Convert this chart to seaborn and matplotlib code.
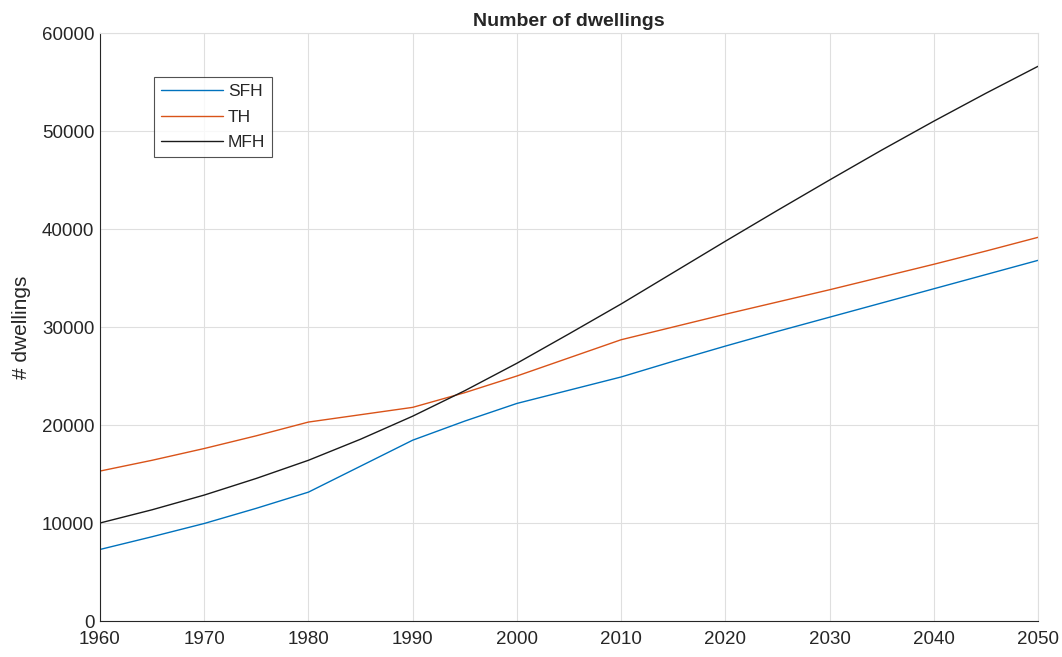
import matplotlib
matplotlib.use("Agg")
import matplotlib.pyplot as plt
import seaborn as sns
import pandas as pd
import numpy as np

years = [1960, 1965, 1970, 1975, 1980, 1985, 1990, 1995, 2000, 2005, 2010,
         2015, 2020, 2025, 2030, 2035, 2040, 2045, 2050]
sfh = [7300, 8600, 9950, 11500, 13150, 15800, 18450, 20400, 22200, 23550, 24900,
       26500, 28050, 29550, 31000, 32450, 33900, 35350, 36800]
th = [15300, 16400, 17600, 18900, 20300, 21050, 21800, 23300, 25000, 26850, 28700,
      30000, 31300, 32550, 33800, 35100, 36400, 37750, 39150]
mfh = [10000, 11350, 12850, 14550, 16400, 18550, 20900, 23500, 26300, 29300, 32350,
       35550, 38750, 41900, 45000, 48050, 51000, 53850, 56600]
series = ["SFH", "TH", "MFH"]
colors = ["#0072BD", "#D95319", "#1a1a1a"]

df = pd.DataFrame({"year": years, "SFH": sfh, "TH": th, "MFH": mfh})
long = df.melt(id_vars="year", var_name="type", value_name="n")

sns.set_style("white")
plt.rcParams['font.family'] = ['Liberation Sans', 'DejaVu Sans']

fig = plt.figure(figsize=(10.62, 6.57), dpi=100)
ax = fig.add_axes([100/1062, 1-621/657, 938/1062, 588/657])

sns.lineplot(data=long, x="year", y="n", hue="type", hue_order=series,
             palette=colors, linewidth=1.0, ax=ax, legend=True)

ax.set_xlim(1960, 2050)
ax.set_ylim(0, 60000)
ax.set_xticks(range(1960, 2051, 10))
ax.set_yticks(range(0, 60001, 10000))
ax.grid(True, color="#dfdfdf", linewidth=0.8)
ax.set_axisbelow(True)
for s in ["top", "right"]:
    ax.spines[s].set_color("#dfdfdf")
    ax.spines[s].set_linewidth(0.8)
for s in ["left", "bottom"]:
    ax.spines[s].set_color("#262626")
    ax.spines[s].set_linewidth(0.8)
ax.tick_params(direction="in", length=6, width=0.8, colors="#262626",
               labelsize=13.5, pad=4)
ax.tick_params(axis="x", pad=7)
ax.set_xlabel("")
ax.set_ylabel("# dwellings", fontsize=15, color="#262626", labelpad=8)
ax.set_title("Number of dwellings", fontsize=14, fontweight="bold", pad=5)

leg = ax.legend(loc="upper left", bbox_to_anchor=(0.0576, 0.925), fontsize=12.5,
                frameon=True, fancybox=False, edgecolor="#262626",
                handlelength=3.6, borderpad=0.4, labelspacing=0.6,
                handletextpad=0.25, borderaxespad=0)
leg.get_frame().set_linewidth(0.8)

fig.savefig("out.png", dpi=100)
